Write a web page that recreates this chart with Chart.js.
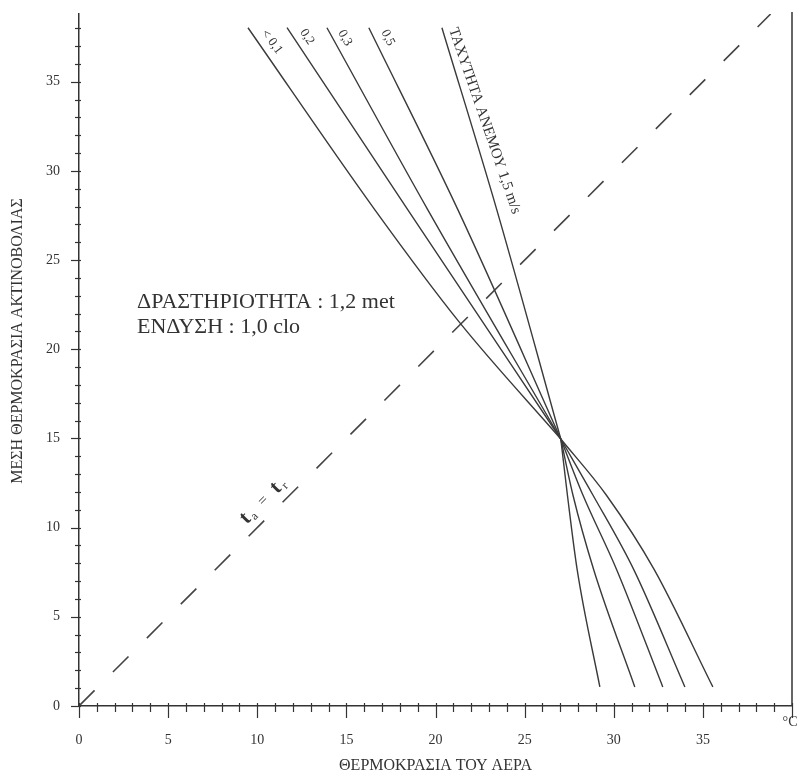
<!DOCTYPE html>
<html><head><meta charset="utf-8">
<script src="https://cdn.jsdelivr.net/npm/chart.js@4.4.1/dist/chart.umd.min.js"></script>
<style>html,body{margin:0;padding:0;background:#fff;}#wrap{width:797px;height:775px;}</style>
</head><body><div id="wrap"><canvas id="c" width="797" height="775"></canvas></div>
<script>
// ---- data (air temperature x, mean radiant temperature y) ----
const windLabels = ['< 0,1', '0,2', '0,3', '0,5', 'ΤΑΧΥΤΗΤΑ ΑΝΕΜΟΥ 1,5 m/s'];
const airTemp_v01 = [9.48, 16.60, 21.37, 27.03, 29.58, 32.28, 35.56];
const radTemp_v01 = [38.03, 27.82, 21.48, 14.97, 11.83, 7.63, 1.07];
const airTemp_v02 = [11.67, 18.45, 27.03, 28.83, 31.13, 33.99];
const radTemp_v02 = [38.03, 27.82, 14.97, 11.83, 7.63, 1.07];
const airTemp_v03 = [13.91, 19.57, 27.03, 28.27, 30.17, 32.75];
const radTemp_v03 = [38.03, 27.82, 14.97, 11.83, 7.63, 1.07];
const airTemp_v05 = [16.26, 21.26, 27.03, 27.71, 28.88, 31.18];
const radTemp_v05 = [38.03, 27.82, 14.97, 11.83, 7.63, 1.07];
const airTemp_v15 = [20.36, 23.44, 27.03, 27.40, 27.95, 29.22];
const radTemp_v15 = [38.03, 27.82, 14.97, 11.83, 7.63, 1.07];
const meetPoint = [27.03, 14.97];
const equalX = [0, 38.8];
const equalY = [0, 38.8];
const xTickLabels = [0, 5, 10, 15, 20, 25, 30, 35];
const yTickLabels = [0, 5, 10, 15, 20, 25, 30, 35];
const infoLines = ['ΔΡΑΣΤΗΡΙΟΤΗΤΑ : 1,2 met', 'ΕΝΔΥΣΗ : 1,0 clo'];
const xTitle = 'ΘΕΡΜΟΚΡΑΣΙΑ ΤΟΥ ΑΕΡΑ';
const yTitle = 'ΜΕΣΗ ΘΕΡΜΟΚΡΑΣΙΑ ΑΚΤΙΝΟΒΟΛΙΑΣ';

const zip = (xs, ys) => xs.map((x, i) => ({x: x, y: ys[i]}));
const curves = [
  [airTemp_v01, radTemp_v01], [airTemp_v02, radTemp_v02], [airTemp_v03, radTemp_v03],
  [airTemp_v05, radTemp_v05], [airTemp_v15, radTemp_v15]
];
const LINE = '#3a3a3a', TXT = '#333';
const SERIF = '"Liberation Serif", "DejaVu Serif", serif';

const datasets = [];
curves.forEach(([xs, ys], i) => {
  const pts = zip(xs, ys);
  const k = ys.indexOf(meetPoint[1]);
  [pts.slice(0, k + 1), pts.slice(k)].forEach(seg => datasets.push({
    label: windLabels[i], data: seg, showLine: true, pointRadius: 0,
    borderColor: LINE, borderWidth: 1.4, cubicInterpolationMode: 'monotone', fill: false
  }));
});
datasets.push({label: 'ta = tr', data: zip(equalX, equalY), showLine: true, pointRadius: 0,
  borderColor: '#444', borderWidth: 1.6, borderDash: [22, 26], tension: 0, fill: false});

// annotation placement (data coords) and angles
const labelAnchors = [[10.82, 37.24], [12.79, 37.52], [14.92, 37.46], [17.33, 37.46], [22.75, 32.81]];
const labelAngles = [53, 57, 61, 64, 71];

const decor = {
  id: 'decor',
  afterDraw(chart) {
    const {ctx, chartArea: ca, scales: {x, y}} = chart;
    ctx.save();
    ctx.strokeStyle = '#333'; ctx.lineWidth = 1.2;
    for (let v = 0; v <= 40; v++) {
      const px = Math.round(x.getPixelForValue(v)) + 0.5;
      ctx.beginPath(); ctx.moveTo(px, ca.bottom - 3);
      ctx.lineTo(px, ca.bottom + (v % 5 === 0 ? 12 : 6)); ctx.stroke();
    }
    for (let v = 0; v <= 38; v++) {
      const py = Math.round(y.getPixelForValue(v)) + 0.5;
      ctx.beginPath(); ctx.moveTo(ca.left + 2, py);
      ctx.lineTo(ca.left - (v % 5 === 0 ? 8 : 4), py); ctx.stroke();
    }
    ctx.lineWidth = 1.5;
    const rx = x.getPixelForValue(40);
    ctx.beginPath(); ctx.moveTo(rx, ca.top - 2); ctx.lineTo(rx, ca.bottom); ctx.stroke();
    ctx.fillStyle = TXT;
    ctx.font = '14px ' + SERIF; ctx.textAlign = 'center'; ctx.textBaseline = 'middle';
    ctx.fillText('°C', rx - 2, ca.bottom + 16);
    // y title
    ctx.save();
    ctx.translate(18, 341); ctx.rotate(-Math.PI / 2);
    ctx.font = '16px ' + SERIF; ctx.fillText(yTitle, 0, 0);
    ctx.restore();
    // info text
    ctx.font = '22px ' + SERIF; ctx.textAlign = 'left'; ctx.textBaseline = 'alphabetic';
    ctx.fillText(infoLines[0], 137, 308);
    ctx.fillText(infoLines[1], 137, 333);
    // curve labels
    labelAnchors.forEach((a, i) => {
      ctx.save();
      ctx.translate(x.getPixelForValue(a[0]), y.getPixelForValue(a[1]));
      ctx.rotate(labelAngles[i] * Math.PI / 180);
      ctx.font = (i === 4 ? '15px ' : '13px ') + SERIF;
      ctx.textAlign = 'center'; ctx.textBaseline = 'middle';
      ctx.fillText(windLabels[i], 0, 0);
      ctx.restore();
    });
    // t_a = t_r label
    ctx.save();
    const cx = x.getPixelForValue(11.08) - 10.5, cy = y.getPixelForValue(11.08) - 10.5;
    ctx.translate(cx, cy); ctx.rotate(-Math.PI / 4);
    ctx.textAlign = 'center'; ctx.textBaseline = 'middle';
    const parts = [['t', 'bold 21px ', -29, 0], ['a', '12px ', -21, 5], ['=', '15px ', -4, 0], ['t', 'bold 21px ', 14, 0], ['r', '12px ', 22, 5]];
    parts.forEach(p => { ctx.font = p[1] + SERIF; ctx.fillText(p[0], p[2], p[3]); });
    ctx.restore();
    ctx.restore();
  }
};

const zeroPad = s => { s.paddingTop = 0; s.paddingBottom = 0; s.paddingLeft = 0; s.paddingRight = 0; };

new Chart(document.getElementById('c'), {
  type: 'scatter',
  data: {datasets: datasets},
  plugins: [decor],
  options: {
    responsive: false, animation: false, devicePixelRatio: 1,
    layout: {padding: {top: 14, right: 5, left: 0, bottom: 0}},
    plugins: {legend: {display: false}, tooltip: {enabled: false}},
    scales: {
      x: {
        type: 'linear', min: 0, max: 40,
        grid: {display: false, drawTicks: false},
        border: {display: true, color: '#333', width: 1.5},
        ticks: {stepSize: 5, padding: 26, color: TXT, font: {family: SERIF, size: 14},
          callback: v => xTickLabels.includes(v) ? String(v) : ''},
        title: {display: true, text: xTitle, color: TXT, font: {family: SERIF, size: 16}, padding: {top: 0, bottom: 0}},
        afterFit: s => { s.height = 69; zeroPad(s); }
      },
      y: {
        type: 'linear', min: 0, max: 38.8,
        grid: {display: false, drawTicks: false},
        border: {display: true, color: '#333', width: 1.5},
        ticks: {stepSize: 5, includeBounds: false, padding: 19, color: TXT, font: {family: SERIF, size: 14},
          callback: v => yTickLabels.includes(v) ? String(v) : ''},
        title: {display: false},
        afterFit: s => { s.width = 79; zeroPad(s); }
      }
    }
  }
});
</script></body></html>
